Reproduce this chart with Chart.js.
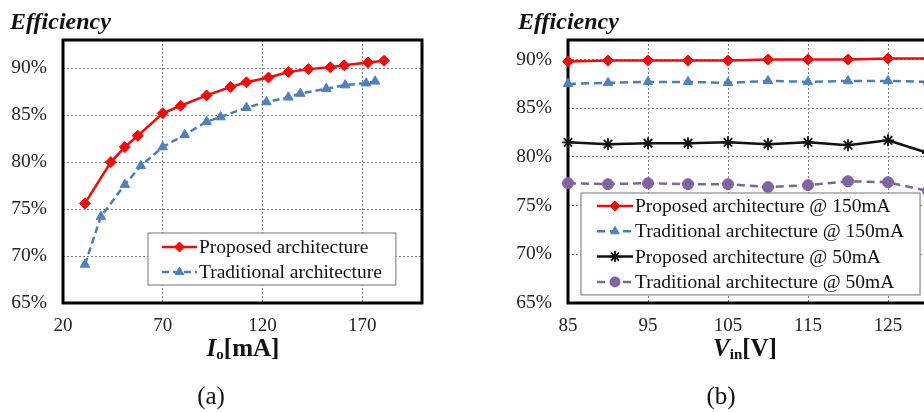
<!DOCTYPE html>
<html>
<head>
<meta charset="utf-8">
<script src="https://cdn.jsdelivr.net/npm/chart.js@4/dist/chart.umd.min.js"></script>
<style>
  html, body { margin: 0; padding: 0; width: 924px; height: 412px; overflow: hidden; background: #fff; }
  canvas { position: absolute; top: 0; }
  .txt { position: absolute; font-family: "Liberation Serif", "Times New Roman", serif; color: #111; white-space: nowrap; line-height: 1; }
  .ttl { font-weight: bold; font-style: italic; font-size: 24px; }
  .axt { font-weight: bold; font-size: 25px; transform: translateX(-50%); }
  .axt sub { font-size: 15px; line-height: 0; vertical-align: -3px; }
  .cap { font-size: 25px; transform: translateX(-50%); }
</style>
</head>
<body>
<canvas id="chartA" width="460" height="340" style="left:0px"></canvas>
<canvas id="chartB" width="500" height="340" style="left:500px"></canvas>

<div class="txt ttl" style="left:10px; top:9px;">Efficiency</div>
<div class="txt ttl" style="left:518px; top:9px;">Efficiency</div>
<div class="txt axt" style="left:243px; top:335px;"><i>I</i><sub>o</sub>[mA]</div>
<div class="txt axt" style="left:745px; top:335px;"><i>V</i><sub>in</sub>[V]</div>
<div class="txt cap" style="left:211px; top:383px;">(a)</div>
<div class="txt cap" style="left:721px; top:383px;">(b)</div>

<script>
// ---- (a) efficiency versus output current ----
const proposedCurrent   = [31, 44, 51, 57.5, 70, 79, 92, 104, 112, 123, 133, 143, 154, 161, 173, 181];
const proposedEffA      = [75.6, 80.0, 81.6, 82.8, 85.2, 86.0, 87.1, 88.0, 88.5, 89.0, 89.6, 89.9, 90.1, 90.3, 90.6, 90.8];
const traditionalCurrent = [31, 39, 51, 59, 70, 81, 92, 99, 112, 122, 133, 139, 152, 161.5, 172, 176.5];
const traditionalEffA   = [69.1, 74.2, 77.6, 79.6, 81.6, 82.9, 84.3, 84.8, 85.8, 86.4, 86.9, 87.3, 87.8, 88.2, 88.4, 88.6];
const currentTicks      = [20, 70, 120, 170];
const effTicks          = [65, 70, 75, 80, 85, 90];

// ---- (b) efficiency versus input voltage ----
const inputVoltage      = [85, 90, 95, 100, 105, 110, 115, 120, 125, 130];
const proposed150       = [89.8, 89.9, 89.9, 89.9, 89.9, 90.0, 90.0, 90.0, 90.1, 90.1];
const traditional150    = [87.5, 87.6, 87.7, 87.7, 87.6, 87.8, 87.7, 87.8, 87.8, 87.7];
const proposed50        = [81.5, 81.3, 81.4, 81.4, 81.5, 81.3, 81.5, 81.2, 81.7, 80.4];
const traditional50     = [77.3, 77.2, 77.3, 77.2, 77.2, 76.9, 77.1, 77.5, 77.4, 76.5];
const voltageTicks      = [85, 95, 105, 115, 125, 135];

const labelsA = ['Proposed architecture', 'Traditional architecture'];
const labelsB = ['Proposed architecture @ 150mA', 'Traditional architecture @ 150mA',
                 'Proposed architecture @ 50mA', 'Traditional architecture @ 50mA'];

const SERIF = '"Liberation Serif", "Times New Roman", serif';
const RED = '#f50a0a', BLUE = '#4a7ebb', BLUE_PT = '#4f81bd', BLACK = '#111111', PURPLE = '#8064a2';

const pairs = (xs, ys) => xs.map((x, i) => ({ x, y: ys[i] }));

function series(label, data, color, ptColor, style, radius, dash) {
  return {
    label, data,
    borderColor: color, backgroundColor: ptColor,
    borderWidth: 2.5, borderDash: dash || [],
    pointStyle: style, pointRadius: radius, pointHoverRadius: radius,
    pointBackgroundColor: ptColor, pointBorderColor: ptColor,
    pointBorderWidth: style === 'star' ? 1.8 : 1,
    tension: 0, clip: false, fill: false
  };
}

// heavy black frame round the plot area
const frame = {
  id: 'frame',
  beforeDatasetsDraw(chart) {
    const { ctx, chartArea: a } = chart;
    ctx.save();
    ctx.strokeStyle = '#000';
    ctx.lineWidth = 3;
    ctx.strokeRect(a.left, a.top, a.right - a.left, a.bottom - a.top);
    ctx.restore();
  }
};

// boxed legend drawn inside the plot area
const boxLegend = {
  id: 'boxLegend',
  afterDatasetsDraw(chart, args, o) {
    const { ctx, chartArea: a } = chart;
    const sets = chart.data.datasets;
    ctx.save();
    ctx.font = '19.5px ' + SERIF;
    const textW = Math.max(...sets.map(d => ctx.measureText(d.label).width));
    const x0 = a.left + o.left, y0 = a.top + o.top;
    const w = o.pad + o.sample + 2 + textW + o.pad;
    const h = o.padTop + o.rowH * (sets.length - 1) + o.padBottom;
    ctx.fillStyle = '#fff';
    ctx.fillRect(x0, y0, w, h);
    ctx.strokeStyle = '#8a8a8a';
    ctx.lineWidth = 1.2;
    ctx.strokeRect(x0, y0, w, h);
    sets.forEach((d, i) => {
      const cy = y0 + o.padTop + i * o.rowH;
      const sx = x0 + o.pad;
      ctx.strokeStyle = d.borderColor;
      ctx.lineWidth = d.borderWidth;
      ctx.setLineDash(d.borderDash);
      ctx.beginPath();
      ctx.moveTo(sx, cy);
      ctx.lineTo(sx + o.sample, cy);
      ctx.stroke();
      ctx.setLineDash([]);
      ctx.fillStyle = d.pointBackgroundColor;
      ctx.strokeStyle = d.pointBorderColor;
      ctx.lineWidth = d.pointBorderWidth;
      Chart.helpers.drawPoint(ctx, { pointStyle: d.pointStyle, radius: d.pointRadius - 0.5, rotation: 0, borderWidth: d.pointBorderWidth }, sx + o.sample / 2, cy);
      ctx.fillStyle = '#111';
      ctx.textBaseline = 'middle';
      ctx.textAlign = 'left';
      ctx.fillText(d.label, sx + o.sample + 2, cy + 1);
    });
    ctx.restore();
  }
};

function axes(xMin, xMax, xTickVals, yMin, yMax, yTickVals, yWidth) {
  const gridCommon = { color: '#7f7f7f', lineWidth: 1, drawTicks: false };
  return {
    x: {
      type: 'linear', min: xMin, max: xMax,
      afterBuildTicks: s => { s.ticks = xTickVals.map(v => ({ value: v })); },
      afterFit: s => { s.height = 37; },
      grid: gridCommon,
      border: { display: false, dash: [2, 2] },
      ticks: { padding: 12, color: '#222', font: { family: SERIF, size: 19 }, maxRotation: 0, autoSkip: false }
    },
    y: {
      min: yMin, max: yMax,
      afterBuildTicks: s => { s.ticks = yTickVals.map(v => ({ value: v })); },
      afterFit: s => { s.width = yWidth; },
      grid: gridCommon,
      border: { display: false, dash: [2, 2] },
      ticks: { padding: 16, color: '#222', font: { family: SERIF, size: 19.5 }, callback: v => v + '%' }
    }
  };
}

const baseOptions = {
  responsive: false, animation: false,
  events: [],
  plugins: { legend: { display: false }, tooltip: { enabled: false } }
};

new Chart(document.getElementById('chartA'), {
  type: 'line',
  data: {
    datasets: [
      series(labelsA[0], pairs(proposedCurrent, proposedEffA), RED, RED, 'rectRot', 5.5),
      series(labelsA[1], pairs(traditionalCurrent, traditionalEffA), BLUE, BLUE_PT, 'triangle', 5.5, [7, 4])
    ]
  },
  options: Object.assign({}, baseOptions, {
    layout: { padding: { left: 0, top: 40, right: 38, bottom: 0 } },
    scales: axes(20, 200, currentTicks, 65, 93, effTicks, 63),
    plugins: Object.assign({}, baseOptions.plugins, {
      boxLegend: { left: 85, top: 193, pad: 14, sample: 35, padTop: 14, rowH: 25, padBottom: 13 }
    })
  }),
  plugins: [frame, boxLegend]
});

new Chart(document.getElementById('chartB'), {
  type: 'line',
  data: {
    datasets: [
      series(labelsB[0], pairs(inputVoltage, proposed150), RED, RED, 'rectRot', 5.5),
      series(labelsB[1], pairs(inputVoltage, traditional150), BLUE, BLUE_PT, 'triangle', 5.5, [8, 5]),
      series(labelsB[2], pairs(inputVoltage, proposed50), BLACK, BLACK, 'star', 6),
      series(labelsB[3], pairs(inputVoltage, traditional50), PURPLE, PURPLE, 'circle', 5.5, [8, 5])
    ]
  },
  options: Object.assign({}, baseOptions, {
    layout: { padding: { left: 0, top: 40, right: 32, bottom: 0 } },
    scales: axes(85, 135, voltageTicks, 65, 92, effTicks, 68),
    plugins: Object.assign({}, baseOptions.plugins, {
      boxLegend: { left: 13, top: 153, pad: 16, sample: 36, padTop: 13, rowH: 25.3, padBottom: 13 }
    })
  }),
  plugins: [frame, boxLegend]
});
</script>
</body>
</html>
